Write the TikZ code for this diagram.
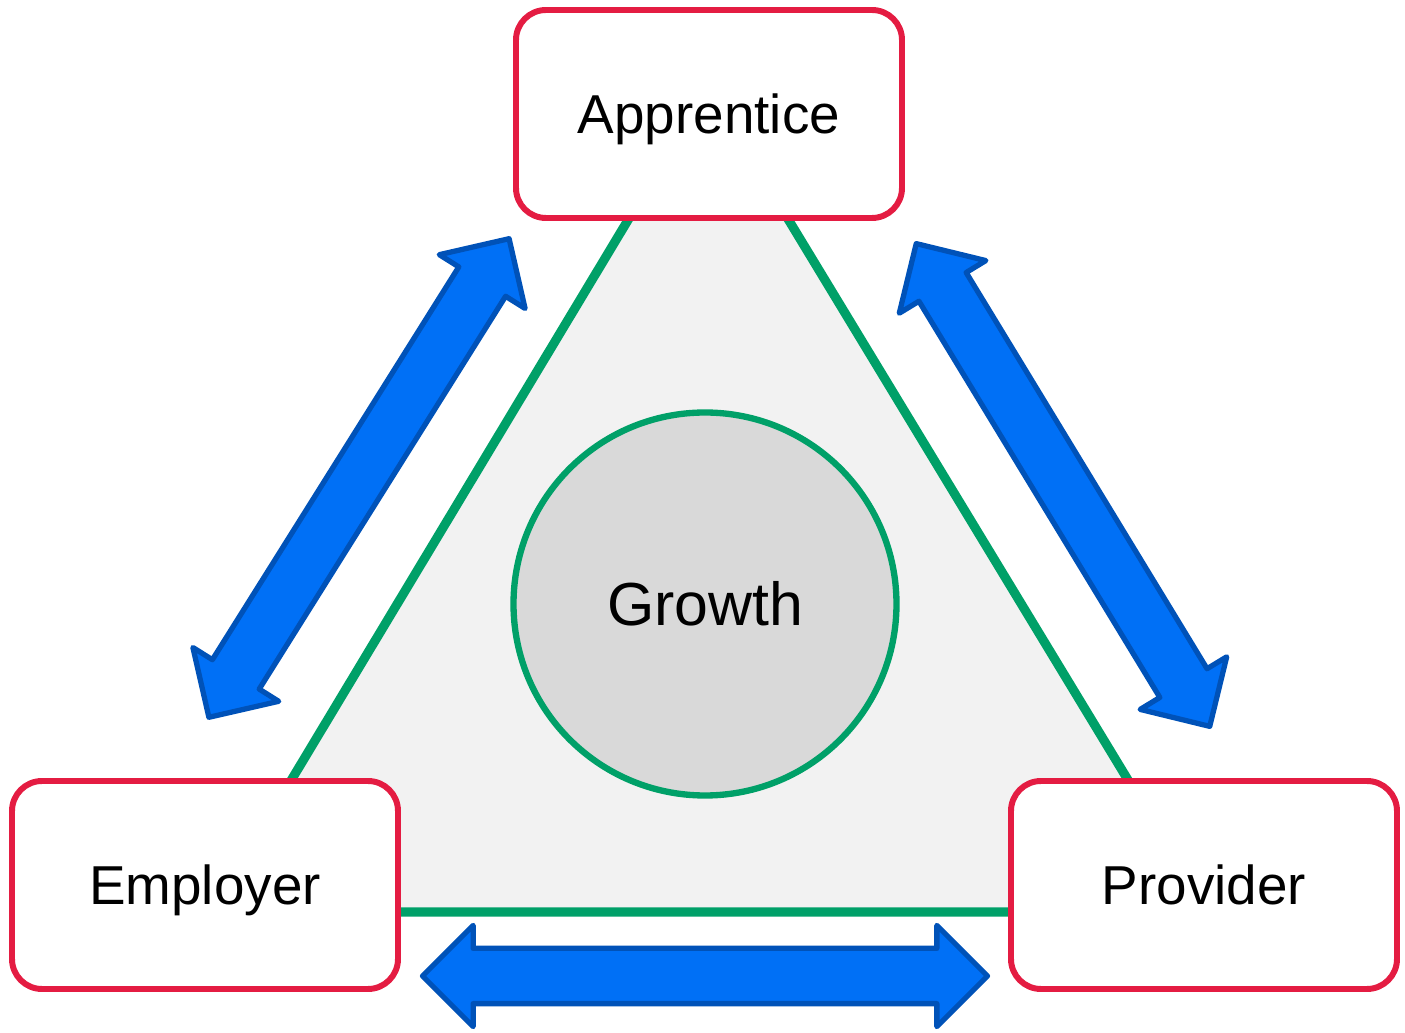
\documentclass[tikz,border=0pt]{standalone}
\usepackage{fontspec}
\setmainfont{Liberation Sans}
\usetikzlibrary{shapes.arrows}
\definecolor{rimred}{RGB}{228,28,66}
\definecolor{leafgreen}{RGB}{0,160,104}
\definecolor{flowblue}{RGB}{0,112,246}
\definecolor{flowedge}{RGB}{0,82,184}
\definecolor{panelgray}{RGB}{242,242,242}
\definecolor{coregray}{RGB}{217,217,217}

\begin{document}
\begin{tikzpicture}[every node/.style={font=\fontsize{15.6}{18}\selectfont},
  party/.style={draw=rimred, line width=1.7pt, rounded corners=0.3cm, fill=white,
    minimum width=3.86cm, minimum height=2.08cm, outer sep=0pt,
    text height=0.394cm, text depth=0pt},
  core/.style={circle, draw=leafgreen, line width=1.8pt, fill=coregray,
    minimum size=3.83cm, inner sep=0pt, font=\fontsize{17.3}{20}\selectfont,
    text height=0.437cm, text depth=0pt},
  twoway/.style={double arrow, draw=flowedge, fill=flowblue, line width=1.5pt, line join=round,
    minimum height=5.65cm, double arrow head extend=0.23cm,
    double arrow head indent=0pt, inner xsep=0pt, inner ysep=0.25cm}]
\useasboundingbox (0,0) rectangle (14.05,10.33);
% triangle corners
\coordinate (tri-top) at (7.08,9.46);
\coordinate (tri-left) at (2.12,1.21);
\coordinate (tri-right) at (12.08,1.21);
\filldraw[fill=panelgray, draw=leafgreen, line width=2.6pt] (tri-top) -- (tri-left) -- (tri-right) -- cycle;
\node[core] (growth) at (7.05,4.29) {Growth};
\node[party] (apprentice) at (7.09,9.19) {Apprentice};
\node[party] (employer) at (2.05,1.48) {Employer};
\node[party] (provider) at (12.04,1.48) {Provider};
% two-way links between the parties
\node[twoway, rotate=57.9] (app-emp) at (3.59,5.55) {};
\node[twoway, rotate=-58.7] (app-pro) at (10.63,5.48) {};
\node[twoway] (emp-pro) at (7.05,0.57) {};
\end{tikzpicture}
\end{document}
